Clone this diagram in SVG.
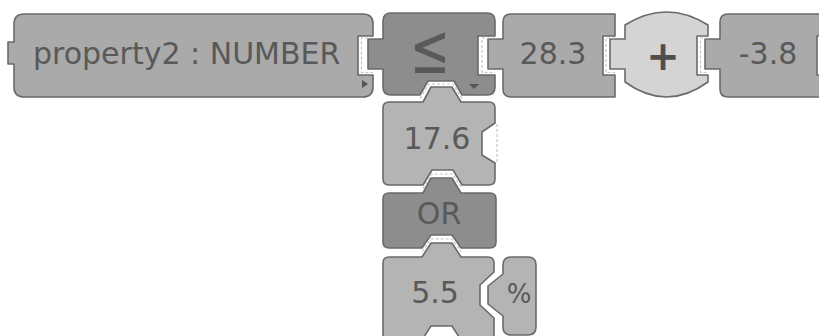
<svg xmlns="http://www.w3.org/2000/svg" width="819" height="336" viewBox="0 0 819 336">
<style>
.blk{stroke:#6a6a6a;stroke-width:1.6;stroke-linejoin:round}
.mid{fill:#aaaaaa}
.dark{fill:#8d8d8d}
.light{fill:#d4d4d4}
.pale{fill:#b4b4b4}
.t{font-family:"DejaVu Sans",Verdana,sans-serif;font-size:30px;fill:#595959}
.c{text-anchor:middle}
.sock{fill:none;stroke:#c4c4c4;stroke-width:1.2;stroke-dasharray:3 2}
.tri{fill:#555555}
</style>
<rect width="819" height="336" fill="#ffffff"/>
<g id="property">
<path class="blk mid" d="M24,14 H363 Q373,14 373,24 V36 H358 V75 H373 V87 Q373,97 363,97 H24 Q14,97 14,87 V64 H8 V42 H14 V24 Q14,14 24,14 Z"/>
<text class="t" x="33" y="64">property2 : NUMBER</text>
<polygon class="tri" points="362,80 368,84 362,88"/>
</g>
<g id="le">
<path class="blk dark" d="M391,13 H487 Q495,13 495,21 V36 H478 V75 H495 V87 Q495,95 487,95 H462 L454,81 H428 L420,95 H391 Q383,95 383,87 V69 H368 V39 H383 V21 Q383,13 391,13 Z"/>
<text class="t c" x="0" y="0" transform="translate(430,73) scale(0.8,1.17)" style="font-size:60px">≤</text>
<polygon class="tri" points="469,84 479,84 474,89"/>
</g>
<g id="n28">
<path class="blk mid" d="M511,14 H615 V36 H603 V75 H615 V97 H511 Q503,97 503,89 V69 H488 V39 H503 V22 Q503,14 511,14 Z"/>
<text class="t c" x="553" y="64">28.3</text>
</g>
<g id="plus">
<path class="blk light" d="M625,25 Q666.5,-1 708,25 V36 H697 V75 H708 V82 Q666.5,112 625,82 V69 H610 V39 H625 Z"/>
<text class="t c" x="663" y="70" style="font-size:40px;font-weight:bold;fill:#4e4e4e">+</text>
</g>
<g id="n38">
<path class="blk mid" d="M728,14 H830 V36 H817 V75 H830 V97 H728 Q720,97 720,89 V69 H705 V39 H720 V22 Q720,14 728,14 Z"/>
<text class="t c" x="768" y="64">-3.8</text>
</g>
<g id="n176">
<path class="blk pale" d="M389,102 H423 L431,87 H452 L461,102 H489 Q495,102 495,108 V123 L482,132 V155 L495,163 V179 Q495,185 489,185 H462 L453,170 H432 L423,185 H389 Q383,185 383,179 V108 Q383,102 389,102 Z"/>
<text class="t c" x="437" y="149">17.6</text>
</g>
<g id="or">
<path class="blk dark" d="M389,193 H423 L431,178 H452 L461,193 H490 Q496,193 496,199 V242 Q496,248 490,248 H461 L452,235 H431 L422,248 H389 Q383,248 383,242 V199 Q383,193 389,193 Z"/>
<text class="t c" x="439" y="224">OR</text>
</g>
<g id="n55">
<path class="blk pale" d="M389,257 H422 L431,243 H452 L461,257 H488 Q494,257 494,263 V272 L480,285 V305 L494,318 V334 Q494,340 488,340 H461 L452,326 H431 L422,340 H389 Q383,340 383,334 V263 Q383,257 389,257 Z"/>
<text class="t c" x="435" y="303">5.5</text>
</g>
<g id="pct">
<path class="blk pale" d="M511,257 H528 Q536,257 536,265 V327 Q536,335 528,335 H511 Q503,335 503,327 V316 L488,304 V286 L503,274 V265 Q503,257 511,257 Z"/>
<text class="t c" x="519" y="303" style="font-size:26px">%</text>
</g>
<g id="connectors">
<path class="sock" d="M373,38 H361.5 V72.5 H373"/>
<path class="sock" d="M495,38 H482 V72.5 H495"/>
<path class="sock" d="M615,38 H606 V72.5 H615"/>
<path class="sock" d="M708,38 H700.5 V72.5 H708"/>
<path class="sock" d="M420,98.5 L429,84 H453 L462,98.5"/>
<path class="sock" d="M423,188.5 L431.5,174 H452.5 L462,188.5"/>
<path class="sock" d="M422,251.5 L431,239 H452 L461,251.5"/>
<path class="sock" d="M497,124 V162"/>
</g>
</svg>
